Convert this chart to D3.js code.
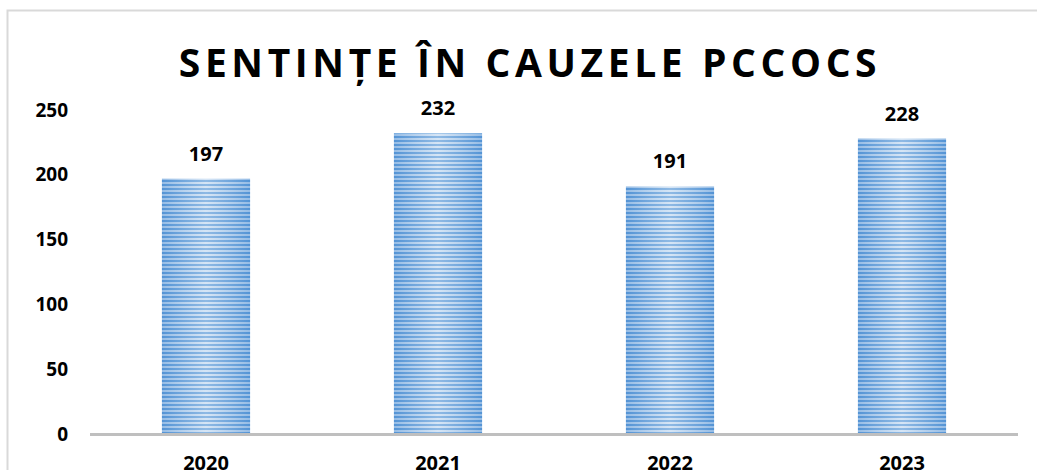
<!DOCTYPE html>
<html><head><meta charset="utf-8">
<script src="https://cdn.jsdelivr.net/npm/d3@7"></script>
<style>body{margin:0;background:#fff}svg{display:block}</style>
</head><body>
<script>
const categories = ["2020","2021","2022","2023"];
const values = [197,232,191,228];
const yTicks = [0,50,100,150,200,250];
const title = "SENTINȚE ÎN CAUZELE PCCOCS";

const W=1037,H=470;
const svg=d3.select("body").append("svg").attr("width",W).attr("height",H);
const defs=svg.append("defs");
const pat=defs.append("pattern").attr("id","stripes").attr("patternUnits","userSpaceOnUse")
  .attr("width",8).attr("height",4);
pat.append("rect").attr("width",8).attr("height",4).attr("fill","#c4daf1");
pat.append("rect").attr("width",8).attr("height",2).attr("fill","#5e9bd8");
const g1=defs.append("linearGradient").attr("id","shade").attr("x1","0").attr("x2","1").attr("y1","0").attr("y2","0");
g1.append("stop").attr("offset","0").attr("stop-color","#3f85cf").attr("stop-opacity",0.35);
g1.append("stop").attr("offset","0.5").attr("stop-color","#ffffff").attr("stop-opacity",0.3);
g1.append("stop").attr("offset","1").attr("stop-color","#3f85cf").attr("stop-opacity",0.35);

// chart border
svg.append("path").attr("d","M7.5,470 V10.5 H1037").attr("fill","none").attr("stroke","#d9d9d9").attr("stroke-width",2);

const x=d3.scaleBand().domain(categories).range([90,1018]).paddingInner(0.62).paddingOuter(0.31);
const y=d3.scaleLinear().domain([0,250]).range([434,110]);

svg.append("text").attr("x",530).attr("y",77).attr("text-anchor","middle")
  .attr("font-family","Open Sans, sans-serif").attr("font-weight","bold").attr("font-size",39)
  .attr("letter-spacing",4.6).attr("fill","#000").text(title);

const yAxis=svg.append("g").attr("transform","translate(78,0)")
  .call(d3.axisLeft(y).tickValues(yTicks).tickSize(0).tickPadding(10));
yAxis.select(".domain").remove();
yAxis.selectAll("text").attr("font-family","Open Sans, sans-serif").attr("font-weight","bold")
  .attr("font-size",19).attr("fill","#000");

const bars=svg.append("g");
bars.selectAll("rect.b").data(values).join("rect").attr("class","b")
  .attr("x",(d,i)=>x(categories[i])).attr("width",x.bandwidth())
  .attr("y",d=>y(d)).attr("height",d=>y(0)-y(d)).attr("fill","url(#stripes)");
bars.selectAll("rect.s").data(values).join("rect").attr("class","s")
  .attr("x",(d,i)=>x(categories[i])).attr("width",x.bandwidth())
  .attr("y",d=>y(d)).attr("height",d=>y(0)-y(d)).attr("fill","url(#shade)");

svg.append("line").attr("x1",90).attr("x2",1018).attr("y1",434.5).attr("y2",434.5)
  .attr("stroke","#bfbfbf").attr("stroke-width",3);

svg.append("g").selectAll("text").data(values).join("text")
  .attr("x",(d,i)=>x(categories[i])+x.bandwidth()/2).attr("y",d=>y(d)-18)
  .attr("text-anchor","middle").attr("font-family","Open Sans, sans-serif").attr("font-weight","bold")
  .attr("font-size",20).attr("fill","#000").text(d=>d);

const xAxis=svg.append("g").attr("transform","translate(0,434)")
  .call(d3.axisBottom(x).tickSize(0).tickPadding(22));
xAxis.select(".domain").remove();
xAxis.selectAll("text").attr("font-family","Open Sans, sans-serif").attr("font-weight","bold")
  .attr("font-size",20).attr("fill","#000");
</script>
</body></html>
